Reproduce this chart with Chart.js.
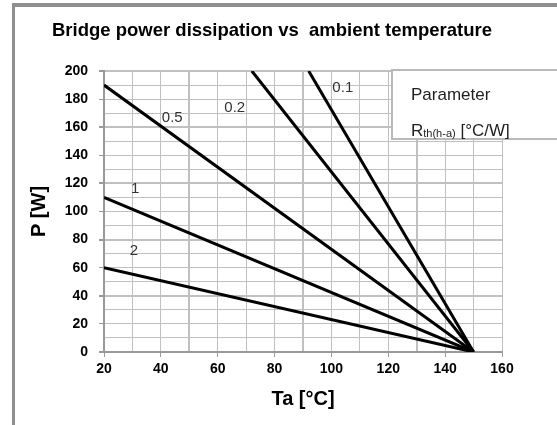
<!DOCTYPE html>
<html>
<head>
<meta charset="utf-8">
<script src="https://cdn.jsdelivr.net/npm/chart.js@4.4.0/dist/chart.umd.min.js"></script>
<style>
  html, body { margin: 0; padding: 0; background: #fff; overflow: hidden; }
  #wrap { position: relative; width: 557px; height: 425px; overflow: hidden; }
  #frame { position: absolute; left: 12px; top: 3px; width: 700px; height: 600px; border-left: 3px solid #8e8e8e; border-top: 4px solid #8e8e8e; }
  #chart { position: absolute; left: 0; top: 0; }
  #key { position: absolute; left: 391px; top: 69px; width: 300px; height: 67px; border: 2px solid #b9b9b9; background: #fff;
         font-family: "Liberation Sans", Arial, sans-serif; font-size: 17px; color: #1f1f1f; line-height: 20px; }
  #key div { position: absolute; left: 18px; white-space: nowrap; }
  #key sub { font-size: 11px; vertical-align: -1px; }
</style>
</head>
<body>
<div id="wrap">
  <div id="frame"></div>
  <canvas id="chart" width="557" height="425"></canvas>
  <div id="key">
    <div style="top: 14px;">Parameter</div>
    <div style="top: 50px;">R<sub>th(h-a)</sub> [°C/W]</div>
  </div>
</div>
<script>
document.addEventListener("DOMContentLoaded", function() {
    // Rth(h-a) curves: straight lines from a start point down to (150, 0)
    const rthValues = ['0.1', '0.2', '0.5', '1', '2'];
    const startTa = [92, 72, 20, 20, 20];
    const startP = [200, 200, 190, 110, 60];
    const endTa = 150;
    const endP = 0;

    // where each curve name sits (data units)
    const labelTa = [104, 66, 44, 31, 30.5];
    const labelP = [188, 174, 166.5, 116, 72];

    // labelled ticks
    const xTicks = [20, 40, 60, 80, 100, 120, 140, 160];
    const yTicks = [0, 20, 40, 60, 80, 100, 120, 140, 160, 180, 200];

    const fontFamily = '"Liberation Sans", Arial, sans-serif';

    const datasets = rthValues.map((r, i) => ({
        label: r,
        data: [{ x: startTa[i], y: startP[i] }, { x: endTa, y: endP }],
        showLine: true,
        borderColor: '#000',
        borderWidth: 3,
        pointRadius: 0,
        fill: false
    }));

    // curve names drawn next to the lines
    const curveLabels = {
        id: 'curveLabels',
        afterDatasetsDraw(chart) {
            const { ctx, scales: { x, y } } = chart;
            ctx.save();
            ctx.font = '15px ' + fontFamily;
            ctx.fillStyle = '#333';
            ctx.textAlign = 'center';
            ctx.textBaseline = 'middle';
            rthValues.forEach((r, i) => {
                ctx.fillText(r, x.getPixelForValue(labelTa[i]), y.getPixelForValue(labelP[i]));
            });
            ctx.restore();
        }
    };

    new Chart(document.getElementById('chart').getContext('2d'), {
        type: 'scatter',
        data: { datasets: datasets },
        plugins: [curveLabels],
        options: {
            responsive: false,
            animation: false,
            devicePixelRatio: 1,
            layout: { padding: { left: 0, right: 13, top: 0, bottom: 0 } },
            plugins: {
                legend: { display: false },
                tooltip: { enabled: false },
                title: {
                    display: true,
                    text: 'Bridge power dissipation vs  ambient temperature',
                    color: '#000',
                    font: { family: fontFamily, size: 18.5, weight: 'bold' },
                    padding: { top: 20, bottom: 28.8 }
                }
            },
            scales: {
                x: {
                    type: 'linear',
                    min: 20,
                    max: 160,
                    afterFit: s => { s.height = 73; },
                    ticks: {
                        stepSize: 10,
                        autoSkip: false,
                        maxRotation: 0,
                        padding: 4,
                        color: '#000',
                        font: { family: fontFamily, size: 14, weight: 'bold' },
                        callback: v => xTicks.includes(v) ? v : ''
                    },
                    grid: {
                        color: '#c0c0c0',
                        lineWidth: c => (c.tick && c.tick.value % 40 === 10) ? 2 : 1,
                        tickLength: 5,
                        tickColor: c => (c.tick && xTicks.includes(c.tick.value)) ? '#999' : 'rgba(0,0,0,0)'
                    },
                    border: { color: '#999', width: 2 },
                    title: {
                        display: true,
                        text: 'Ta [°C]',
                        color: '#000',
                        font: { family: fontFamily, size: 20, weight: 'bold' },
                        padding: { top: 0, bottom: 13.5 }
                    }
                },
                y: {
                    type: 'linear',
                    min: 0,
                    max: 200,
                    afterFit: s => { s.width = 104; },
                    ticks: {
                        stepSize: 10,
                        autoSkip: false,
                        padding: 11,
                        color: '#000',
                        font: { family: fontFamily, size: 14, weight: 'bold' },
                        callback: v => yTicks.includes(v) ? v : ''
                    },
                    grid: {
                        color: '#c0c0c0',
                        lineWidth: c => (c.tick && c.tick.value % 40 === 0) ? 2 : 1,
                        tickLength: 5,
                        tickColor: c => (c.tick && yTicks.includes(c.tick.value)) ? '#999' : 'rgba(0,0,0,0)'
                    },
                    border: { color: '#999', width: 2 },
                    title: {
                        display: true,
                        text: 'P [W]',
                        color: '#000',
                        font: { family: fontFamily, size: 20, weight: 'bold' },
                        padding: { top: 27.5, bottom: 0 }
                    }
                },
                // empty spacer so the plot ends where the reference does
                y2: {
                    position: 'right',
                    display: true,
                    afterFit: s => { s.width = 42; },
                    grid: { display: false, drawTicks: false },
                    ticks: { display: false },
                    border: { display: false }
                }
            }
        }
    });
});
</script>
</body>
</html>
